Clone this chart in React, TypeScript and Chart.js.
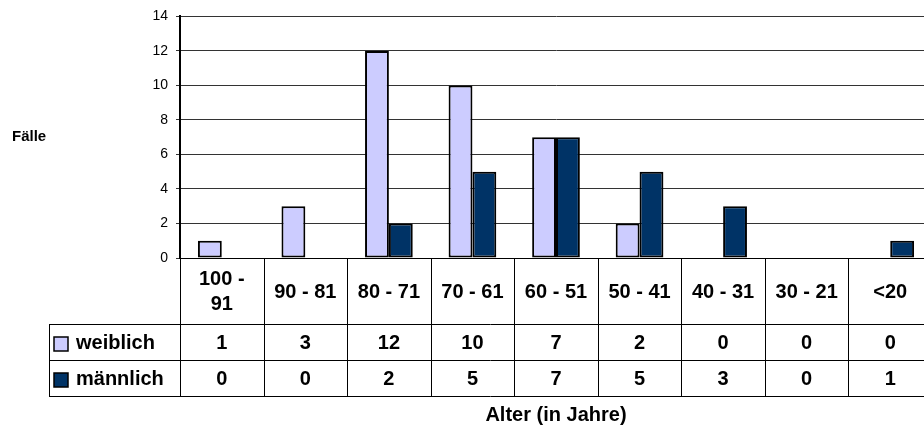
import React, { useEffect, useRef } from "react";
import { Chart, registerables } from "chart.js";

Chart.register(...registerables);

// Age groups (x categories), cases per group for each sex
const ageGroups: (string | string[])[] = [
  ["100 -", "91"],
  "90 - 81",
  "80 - 71",
  "70 - 61",
  "60 - 51",
  "50 - 41",
  "40 - 31",
  "30 - 21",
  "<20",
];
const female = [1, 3, 12, 10, 7, 2, 0, 0, 0];
const male = [0, 0, 2, 5, 7, 5, 3, 0, 1];
const seriesNames = ["weiblich", "männlich"];
const seriesColors = ["#CCCCFF", "#003366"];
const yMax = 14;
const yStep = 2;
const yTitle = "Fälle";
const xTitle = "Alter (in Jahre)";

const FONT = "Arial, 'Liberation Sans', Helvetica, sans-serif";

// Draws the data table under the plot (category row + one row per series),
// plus the axis titles.
const dataTablePlugin = {
  id: "dataTable",
  afterDraw(chart: any) {
    const ctx: CanvasRenderingContext2D = chart.ctx;
    const { left, right, bottom } = chart.chartArea;
    const xScale = chart.scales.x;
    const n = ageGroups.length;
    const catW = (right - left) / n;
    const legendLeft = 49;
    const headBottom = bottom + 66;
    const row1Bottom = headBottom + 36;
    const row2Bottom = row1Bottom + 36;
    const px = (v: number) => Math.round(v) + 0.5;

    ctx.save();
    ctx.strokeStyle = "#000";
    ctx.lineWidth = 1;
    ctx.beginPath();
    // horizontal rules
    ctx.moveTo(left, px(bottom));
    ctx.lineTo(right, px(bottom));
    for (const y of [headBottom, row1Bottom, row2Bottom]) {
      ctx.moveTo(legendLeft, px(y));
      ctx.lineTo(right, px(y));
    }
    // vertical rules between categories
    for (let i = 0; i <= n; i++) {
      const x = px(left + i * catW);
      ctx.moveTo(x, bottom);
      ctx.lineTo(x, row2Bottom);
    }
    ctx.moveTo(px(legendLeft), headBottom);
    ctx.lineTo(px(legendLeft), row2Bottom);
    ctx.stroke();

    ctx.fillStyle = "#000";
    ctx.textAlign = "center";
    ctx.textBaseline = "middle";
    ctx.font = `bold 20px ${FONT}`;
    const headMid = (bottom + headBottom) / 2;
    ageGroups.forEach((label, i) => {
      const cx = xScale.getPixelForValue(i);
      const lines = Array.isArray(label) ? label : [label];
      const lh = 25;
      const y0 = headMid - ((lines.length - 1) * lh) / 2 + 1;
      lines.forEach((ln, k) => ctx.fillText(ln, cx, y0 + k * lh));
      ctx.fillText(String(female[i]), cx, (headBottom + row1Bottom) / 2 + 1);
      ctx.fillText(String(male[i]), cx, (row1Bottom + row2Bottom) / 2 + 1);
    });

    // series keys in the first column
    const rows = [
      (headBottom + row1Bottom) / 2,
      (row1Bottom + row2Bottom) / 2,
    ];
    rows.forEach((cy, s) => {
      ctx.fillStyle = seriesColors[s];
      ctx.fillRect(54, Math.round(cy - 5), 14, 14);
      ctx.strokeStyle = "#000";
      ctx.lineWidth = 1.5;
      ctx.strokeRect(54, Math.round(cy - 5), 14, 14);
      ctx.fillStyle = "#000";
      ctx.textAlign = "left";
      ctx.fillText(seriesNames[s], 76, cy + 1);
    });

    // axis titles
    ctx.textAlign = "center";
    ctx.font = `bold 20px ${FONT}`;
    ctx.fillText(xTitle, (left + right) / 2, row2Bottom + 19);
    ctx.textAlign = "left";
    ctx.font = `bold 15px ${FONT}`;
    ctx.fillText(yTitle, 12, 137);
    ctx.restore();
  },
};

export default function App() {
  const canvasRef = useRef<HTMLCanvasElement | null>(null);

  useEffect(() => {
    const canvas = canvasRef.current;
    if (!canvas) return;
    const chart = new Chart(canvas, {
      type: "bar",
      data: {
        labels: ageGroups.map((l) => (Array.isArray(l) ? l.join(" ") : l)),
        datasets: [
          {
            label: seriesNames[0],
            data: female,
            backgroundColor: seriesColors[0],
            borderColor: "#000",
            borderWidth: 2,
            borderSkipped: false,
          },
          {
            label: seriesNames[1],
            data: male,
            backgroundColor: seriesColors[1],
            borderColor: "#000",
            borderWidth: 2,
            borderSkipped: false,
          },
        ],
      },
      options: {
        responsive: false,
        animation: false,
        devicePixelRatio: 1,
        layout: { padding: { top: 12, right: 0, bottom: 170, left: 0 } },
        datasets: {
          bar: { categoryPercentage: 0.571, barPercentage: 1 },
        },
        plugins: {
          legend: { display: false },
          tooltip: { enabled: false },
        },
        scales: {
          x: { display: false },
          y: {
            min: 0,
            max: yMax,
            afterFit(scale: any) {
              scale.width = 180;
            },
            ticks: {
              stepSize: yStep,
              color: "#000",
              padding: 8,
              font: { family: FONT, size: 14 },
            },
            grid: {
              color: "#333",
              lineWidth: 1,
              tickLength: 4,
            },
            border: { color: "#000", width: 2 },
          },
        },
      },
      plugins: [dataTablePlugin],
    });
    return () => chart.destroy();
  }, []);

  return (
    <div
      style={{
        position: "absolute",
        left: 0,
        top: 0,
        width: 924,
        height: 428,
        overflow: "hidden",
        background: "#fff",
      }}
    >
      <canvas ref={canvasRef} width={932} height={428} style={{ display: "block" }} />
    </div>
  );
}
